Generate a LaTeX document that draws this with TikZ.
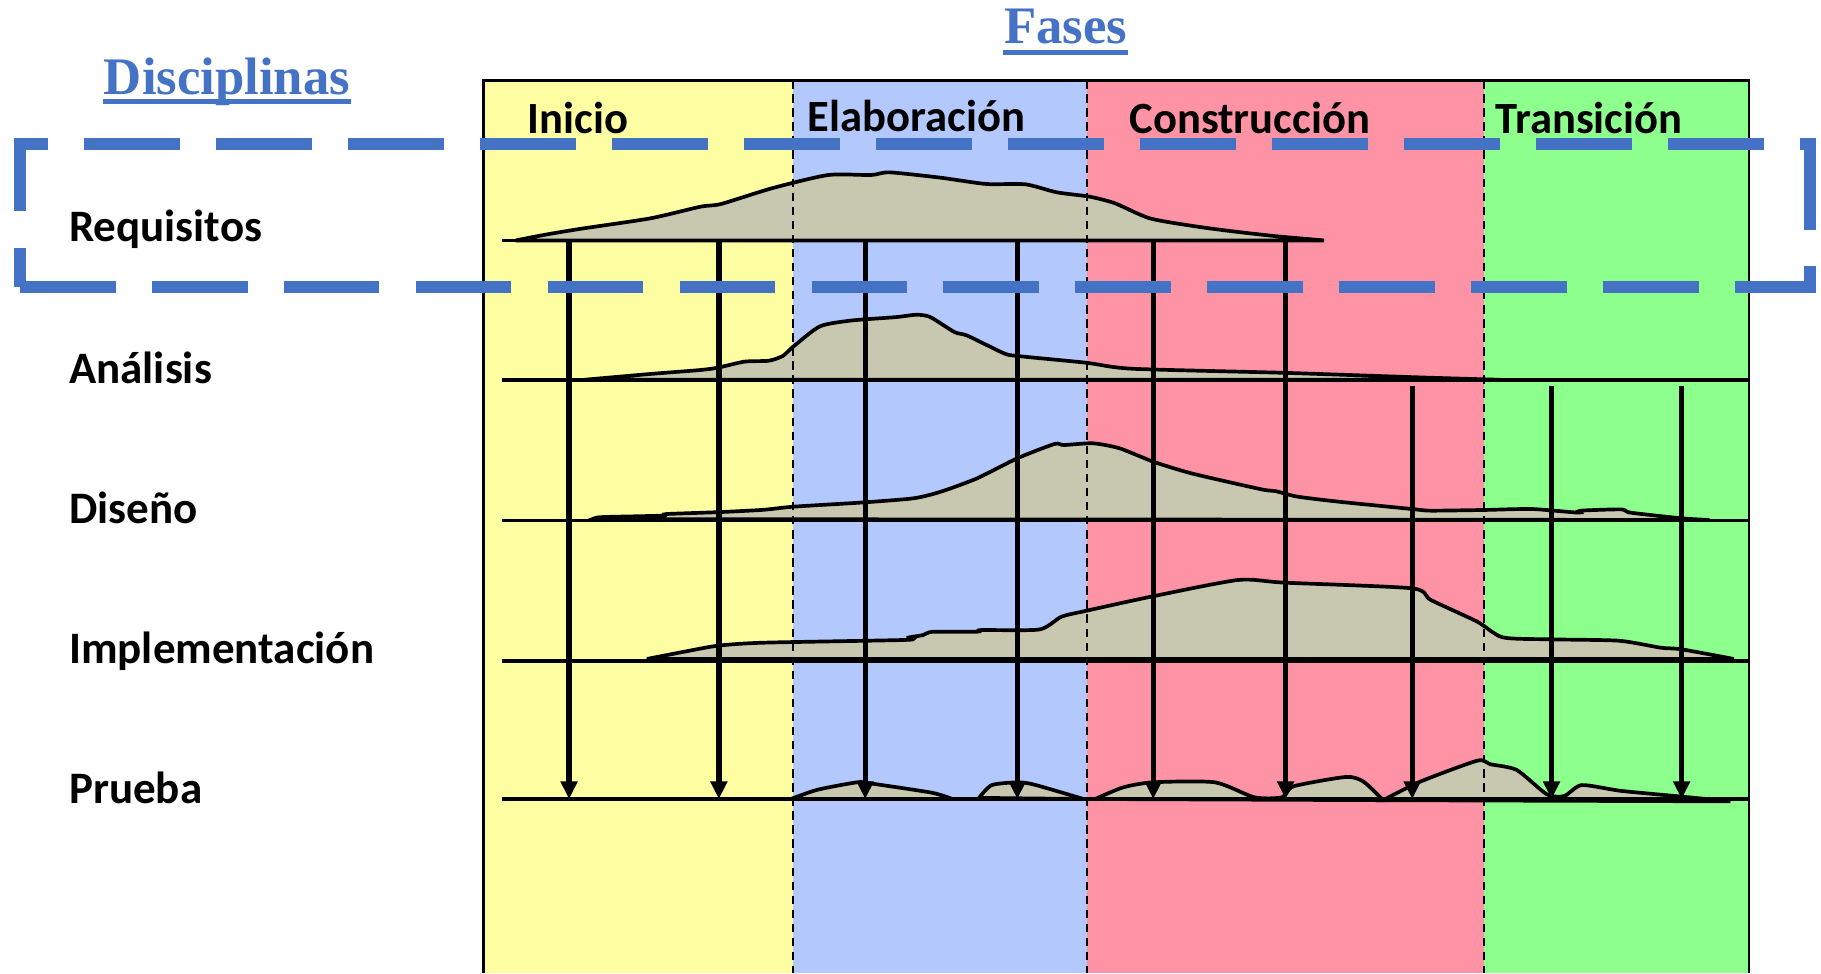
\documentclass[tikz,border=0pt]{standalone}
\usepackage{fontspec}
\setmainfont{Carlito}
\newfontfamily\titlefont{Liberation Serif}
\usetikzlibrary{arrows.meta}

\definecolor{inicio}{RGB}{253,253,162}
\definecolor{elaboracion}{RGB}{179,200,253}
\definecolor{construccion}{RGB}{255,147,166}
\definecolor{transicion}{RGB}{141,255,141}
\definecolor{humpgray}{RGB}{200,200,176}
\definecolor{titleblue}{RGB}{68,114,196}

\tikzset{
  phaselabel/.style={anchor=base west,inner sep=0pt,font=\fontsize{12.7}{15}\selectfont\bfseries},
  disclabel/.style={anchor=base west,inner sep=0pt,font=\fontsize{12.8}{15}\selectfont\bfseries},
  heading/.style={anchor=base,inner sep=0pt,text=titleblue,font=\titlefont\fontsize{15}{18}\selectfont\bfseries},
  headline/.style={draw=titleblue,line width=1.4pt},
  hump/.style={fill=humpgray,draw=black,line width=1.05pt},
  discline/.style={draw=black,line width=1pt},
  divider/.style={draw=black,line width=0.5pt,dash pattern=on 2.4pt off 1.6pt},
  flow/.style={line width=1.5pt,-{Triangle[length=5pt,width=4.6pt]}},
  focus/.style={draw=titleblue,line width=3.3pt,dash pattern=on 27.26pt off 10.28pt}
}

\begin{document}
\begin{tikzpicture}[x=0.011614cm,y=-0.011614cm]
\useasboundingbox (0,0) rectangle (1568,838);

% fondos de las fases
\fill[inicio] (416,69) rectangle (683,838);
\fill[elaboracion] (683,69) rectangle (936,838);
\fill[construccion] (936,69) rectangle (1278,838);
\fill[transicion] (1278,69) rectangle (1506,838);

% curvas de esfuerzo
\filldraw[hump] plot[smooth,tension=0.4] coordinates {(444,207) (470,202) (500,197) (560,188) (603,178) (621,175.6) (665,162) (713,150.7) (750,150.7) (766,148.4) (810,153) (849,158.4) (883,158.7) (910,165.6) (938,169.3) (960,175) (990,188) (1030,195) (1064,199.5) (1100,203.5) (1140,207)} -- cycle;
\filldraw[hump] plot[smooth,tension=0.4] coordinates {(503,327) (560,322) (603,318.6) (618,316.6) (641,311.4) (662,310.6) (674,306.5) (683,298.5) (706,281) (733,276) (772,273) (789,271) (801,273) (822,286) (833,289) (864,304) (876,306.5) (935,312.3) (975,317.5) (1105,321) (1224,325) (1292,327)} -- cycle;
\filldraw[hump] plot[smooth,tension=0.4] coordinates {(510,447) (515,445.5) (526,445) (570,444) (574,442.6) (618,441) (657,439) (683,436.3) (745,432.5) (787,429) (810,423.4) (841,412) (876,394.6) (908,382.3) (916,383.2) (941,381.7) (964,386) (993,397.5) (1026,407.6) (1086,421.3) (1098,422.8) (1117,427.6) (1153,432) (1216,438.3) (1232,439.7) (1278,439.1) (1319,438.3) (1359,441.4) (1361,439.7) (1396,438.6) (1404,441.4) (1448,446.3) (1472,447.7)} -- cycle;
\filldraw[hump] plot[smooth,tension=0.4] coordinates {(557,567.4) (590,561) (618,556) (657,553.4) (780,551) (782,549) (795,546.8) (803,544) (841,544) (845,542.5) (895,542) (914,531) (935,526) (990,514) (1066,499.4) (1106,501.7) (1216,506.6) (1232,516.6) (1272,535.3) (1294,548.8) (1335,550.5) (1394,551.7) (1430,557.7) (1448,559.1) (1493,567.4)} -- cycle;
\filldraw[hump] plot[smooth,tension=0.4] coordinates {(681,688) (704,680) (738,673.6) (749,674.5) (802,682.5) (820,688)} -- cycle;
\filldraw[hump] plot[smooth,tension=0.4] coordinates {(843,687) (854,676) (877,673.6) (892,676) (933,688)} -- cycle;
\filldraw[hump] plot[smooth,tension=0.4] coordinates {(943,688) (967,678) (993,673.6) (1046,673.6) (1080,686.5) (1104,686.5) (1114,677) (1159,669) (1174,673) (1191,689)} -- cycle;
\filldraw[hump] plot[smooth,tension=0.4] coordinates {(1191,689) (1223,673) (1272,655) (1283,658) (1306,663) (1332,684) (1347,685.4) (1362,676) (1396,681) (1449,686) (1490,690)} -- cycle;

% separaciones y marco
\foreach \x in {683,936,1278}
  \draw[divider] (\x,69) -- (\x,838);
\draw[line width=0.8pt] (416,838) -- (416,69) -- (1506,69) -- (1506,838);

% lineas de las disciplinas
\draw[discline] (432,207) -- (1140,207);
\foreach \y in {327,448,569,688}
  \draw[discline] (432,\y) -- (1506,\y);

% flechas hacia Prueba
\foreach \x [count=\i] in {490,619,745,876,993,1107} {
  \coordinate (rq\i) at (\x,207);
  \coordinate (pr\i) at (\x,688);
}
\foreach \x [count=\i from 7] in {1216,1336,1448} {
  \coordinate (an\i) at (\x,332);
  \coordinate (pr\i) at (\x,688);
}
\foreach \i in {1,...,6}
  \draw[flow] (rq\i) -- (pr\i);
\foreach \i in {7,8,9}
  \draw[flow] (an\i) -- (pr\i);

% recuadro de Requisitos
\draw[focus] (17,247) -- (1558.5,247) -- (1558.5,124) -- (17,124) -- cycle;

% titulos
\node[heading] (fases) at (917.5,37.3) {Fases};
\node[heading] (disciplinas) at (195.5,81) {Disciplinas};
\draw[headline] ([yshift=-2.6pt]fases.base west) -- ([yshift=-2.6pt]fases.base east);
\draw[headline] ([yshift=-2.1pt]disciplinas.base west) -- ([yshift=-2.1pt]disciplinas.base east);

% fases
\node[phaselabel] (ini) at (454,114.7) {Inicio};
\node[phaselabel] (ela) at (695,113.5) {Elaboración};
\node[phaselabel] (con) at (972,115) {Construcción};
\node[phaselabel] (tra) at (1287,115) {Transición};

% disciplinas
\node[disclabel] (req) at (59,208) {Requisitos};
\node[disclabel] (ana) at (59,330) {Análisis};
\node[disclabel] (dis) at (59,450.5) {Diseño};
\node[disclabel] (imp) at (59,571) {Implementación};
\node[disclabel] (pru) at (59,691.5) {Prueba};
\end{tikzpicture}
\end{document}
